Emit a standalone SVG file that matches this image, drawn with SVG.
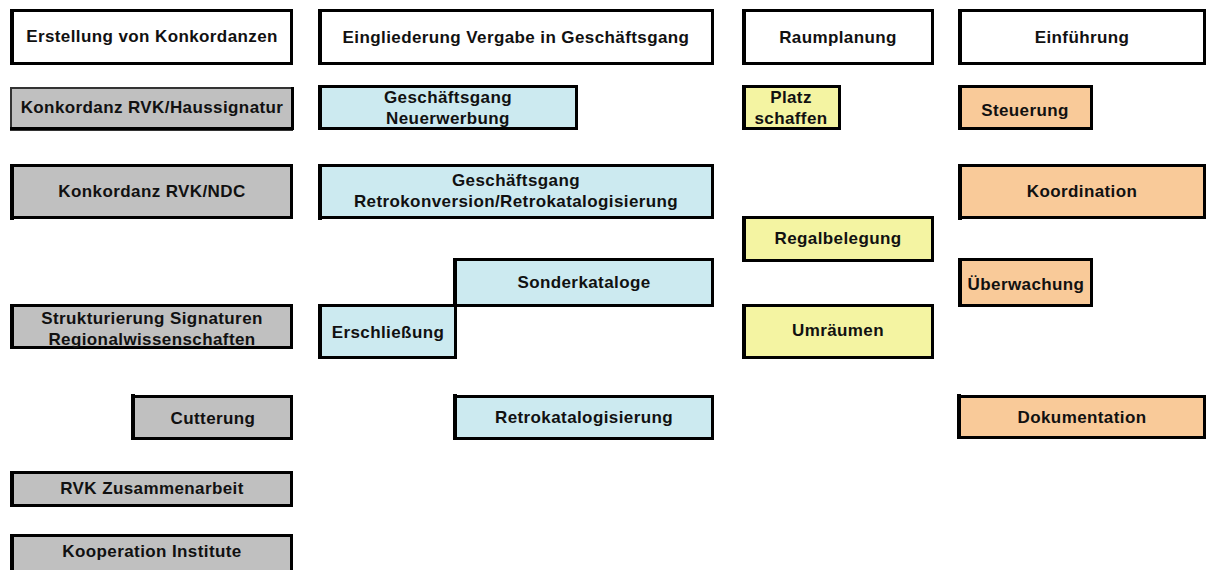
<svg xmlns="http://www.w3.org/2000/svg" width="1209" height="570" viewBox="0 0 1209 570">
<style>
.bx{stroke:#000;stroke-width:3}
.lb{fill:#000}
.w{fill:#fff}.g{fill:#C0C0C0}.b{fill:#CCEAF0}.y{fill:#F4F4A2}.o{fill:#F9CA99}
text{font-family:"Liberation Sans",Arial,sans-serif;font-weight:bold;font-size:17px;letter-spacing:0.4px;fill:#111;text-anchor:middle}
</style>
<rect width="1209" height="570" fill="#fff"/>
<g id="connectors"/>
<g id="h1"><rect class="bx w" x="11.5" y="10.5" width="280" height="53"/><rect class="lb" x="10" y="9" width="4" height="56"/><text x="152" y="42">Erstellung von Konkordanzen</text></g>
<g id="h2"><rect class="bx w" x="319.5" y="10.5" width="393" height="53"/><rect class="lb" x="318" y="9" width="4" height="56"/><text x="516" y="43">Eingliederung Vergabe in Geschäftsgang</text></g>
<g id="h3"><rect class="bx w" x="743.5" y="10.5" width="189" height="53"/><rect class="lb" x="742" y="9" width="4" height="56"/><text x="838" y="43">Raumplanung</text></g>
<g id="h4"><rect class="bx w" x="959.5" y="10.5" width="245" height="53"/><rect class="lb" x="958" y="9" width="4" height="56"/><text x="1082" y="43">Einführung</text></g>
<g id="n1"><rect x="11" y="88" width="281" height="42" fill="#C0C0C0" stroke="#333" stroke-width="2"/><path d="M10 128.5H292.5V87" fill="none" stroke="#000" stroke-width="3"/><text x="152" y="113">Konkordanz RVK/Haussignatur</text></g>
<g id="n2"><rect class="bx b" x="319.5" y="86.5" width="257" height="42"/><rect class="lb" x="318" y="85" width="4" height="45"/><text x="448" y="103">Geschäftsgang</text><text x="448" y="124">Neuerwerbung</text></g>
<g id="n3"><rect class="bx y" x="743.5" y="86.5" width="96" height="42"/><rect class="lb" x="742" y="85" width="4" height="45"/><text x="791" y="103">Platz</text><text x="791" y="124">schaffen</text></g>
<g id="n4"><rect class="bx o" x="959.5" y="86.5" width="132" height="42"/><rect class="lb" x="958" y="85" width="4" height="45"/><text x="1025" y="116">Steuerung</text></g>
<g id="n5"><rect class="bx g" x="11.5" y="165.5" width="280" height="52"/><rect class="lb" x="10" y="164" width="4" height="56"/><text x="152" y="197">Konkordanz RVK/NDC</text></g>
<g id="n6"><rect class="bx b" x="319.5" y="165.5" width="393" height="52"/><rect class="lb" x="318" y="164" width="4" height="56"/><text x="516" y="186">Geschäftsgang</text><text x="516" y="207">Retrokonversion/Retrokatalogisierung</text></g>
<g id="n7"><rect class="bx o" x="959.5" y="165.5" width="245" height="52"/><rect class="lb" x="958" y="164" width="4" height="56"/><text x="1082" y="197">Koordination</text></g>
<g id="n8"><rect class="bx y" x="743.5" y="217.5" width="189" height="43"/><rect class="lb" x="742" y="216" width="4" height="46"/><text x="838" y="244">Regalbelegung</text></g>
<g id="n9"><rect class="bx b" x="454.5" y="259.5" width="258" height="46"/><rect class="lb" x="453" y="258" width="4" height="49"/><text x="584" y="288">Sonderkataloge</text></g>
<g id="n10"><rect class="bx o" x="959.5" y="259.5" width="132" height="46"/><rect class="lb" x="958" y="258" width="4" height="49"/><text x="1026" y="290">Überwachung</text></g>
<g id="n11"><rect class="bx g" x="11.5" y="305.5" width="280" height="42"/><rect class="lb" x="10" y="304" width="4" height="45"/><text x="152" y="324">Strukturierung Signaturen</text><text x="152" y="345">Regionalwissenschaften</text></g>
<g id="n12"><rect class="bx b" x="319.5" y="305.5" width="136" height="52"/><rect class="lb" x="318" y="304" width="4" height="55"/><text x="388" y="338">Erschließung</text></g>
<g id="n13"><rect class="bx y" x="743.5" y="305.5" width="189" height="52"/><rect class="lb" x="742" y="304" width="4" height="55"/><text x="838" y="336">Umräumen</text></g>
<g id="n14"><rect class="bx g" x="132.5" y="396.5" width="159" height="42"/><rect class="lb" x="131" y="394" width="4" height="46"/><text x="213" y="424">Cutterung</text></g>
<g id="n15"><rect class="bx b" x="454.5" y="396.5" width="258" height="42"/><rect class="lb" x="453" y="394" width="4" height="46"/><text x="584" y="423">Retrokatalogisierung</text></g>
<g id="n16"><rect class="bx o" x="958.5" y="396.5" width="246" height="41"/><rect class="lb" x="957" y="394" width="4" height="45"/><text x="1082" y="423">Dokumentation</text></g>
<g id="n17"><rect class="bx g" x="11.5" y="472.5" width="280" height="33"/><rect class="lb" x="10" y="471" width="4" height="36"/><text x="152" y="494">RVK Zusammenarbeit</text></g>
<g id="n18"><rect class="bx g" x="11.5" y="535.5" width="280" height="40"/><rect class="lb" x="10" y="534" width="4" height="42"/><text x="152" y="557">Kooperation Institute</text></g>
</svg>
